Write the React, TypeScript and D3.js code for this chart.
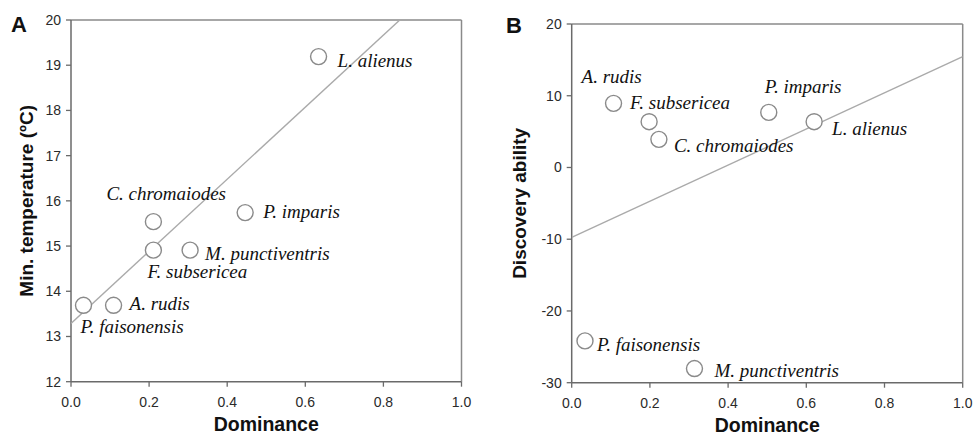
import React from 'react';
import * as d3 from 'd3';

// panel A: dominance vs min. temperature
const speciesA = ['L. alienus', 'C. chromaiodes', 'P. imparis', 'F. subsericea', 'M. punctiventris', 'P. faisonensis', 'A. rudis'];
const dominanceA = [0.634, 0.211, 0.446, 0.211, 0.305, 0.032, 0.109];
const minTemp = [19.19, 15.54, 15.74, 14.91, 14.91, 13.69, 13.69];
const fitA = [13.29, 7.97]; // intercept, slope

// panel B: dominance vs discovery ability
const speciesB = ['A. rudis', 'F. subsericea', 'C. chromaiodes', 'P. imparis', 'L. alienus', 'P. faisonensis', 'M. punctiventris'];
const dominanceB = [0.107, 0.198, 0.223, 0.504, 0.62, 0.034, 0.314];
const discovery = [8.94, 6.38, 3.92, 7.68, 6.38, -24.17, -28.03];
const fitB = [-9.75, 25.2];

const xTicks = [0, 0.2, 0.4, 0.6, 0.8, 1.0];
const yTicksA = [12, 13, 14, 15, 16, 17, 18, 19, 20];
const yTicksB = [-30, -20, -10, 0, 10, 20];

// label offsets from circle centre (px)
const labelOffsetA: Record<string, [number, number]> = {
  'L. alienus': [19, 10],
  'C. chromaiodes': [-47, -22],
  'P. imparis': [18, 5],
  'F. subsericea': [-6, 28],
  'M. punctiventris': [15, 10],
  'P. faisonensis': [-3, 28],
  'A. rudis': [16, 5],
};
const labelOffsetB: Record<string, [number, number]> = {
  'A. rudis': [-32, -20],
  'F. subsericea': [-19, -13],
  'C. chromaiodes': [15, 13],
  'P. imparis': [-4, -19],
  'L. alienus': [18, 13],
  'P. faisonensis': [12, 10],
  'M. punctiventris': [20, 8],
};

interface PanelProps {
  id: string;
  letter: string;
  left: number;
  right: number;
  top: number;
  bottom: number;
  yDomain: [number, number];
  yTicks: number[];
  yTitle: string;
  yTitleX: number;
  names: string[];
  xs: number[];
  ys: number[];
  fit: number[];
  offsets: Record<string, [number, number]>;
  letterX: number;
  letterY: number;
}

const sans = 'Arial, "Liberation Sans", sans-serif';
const serif = '"Times New Roman", "Liberation Serif", serif';

const Panel: React.FC<PanelProps> = (p) => {
  const x = d3.scaleLinear().domain([0, 1]).range([p.left, p.right]);
  const y = d3.scaleLinear().domain(p.yDomain).range([p.bottom, p.top]);
  const line = d3.line<number>().x(d => x(d)).y(d => y(p.fit[0] + p.fit[1] * d));
  const midY = (p.top + p.bottom) / 2;

  return (
    <g>
      <defs>
        <clipPath id={`clip-${p.id}`}>
          <rect x={p.left} y={p.top} width={p.right - p.left} height={p.bottom - p.top} />
        </clipPath>
      </defs>
      <text x={p.letterX} y={p.letterY} fontFamily={sans} fontWeight="bold" fontSize={22} fill="#111">{p.letter}</text>

      {/* frame */}
      <line x1={p.left} x2={p.right} y1={p.top} y2={p.top} stroke="#8a8a8a" strokeWidth={1.5} />
      <line x1={p.right} x2={p.right} y1={p.top} y2={p.bottom} stroke="#8a8a8a" strokeWidth={1.5} />
      <line x1={p.left} x2={p.left} y1={p.top} y2={p.bottom} stroke="#6a6a6a" strokeWidth={1.5} />
      <line x1={p.left} x2={p.right} y1={p.bottom} y2={p.bottom} stroke="#6a6a6a" strokeWidth={1.5} />

      {/* y ticks */}
      {p.yTicks.map(t => (
        <g key={`y${t}`}>
          <line x1={p.left - 5} x2={p.left} y1={y(t)} y2={y(t)} stroke="#6a6a6a" strokeWidth={1.3} />
          <text x={p.left - 10} y={y(t)} dy="0.35em" textAnchor="end" fontFamily={sans} fontSize={14} fill="#2a2a2a">{t}</text>
        </g>
      ))}
      {/* x ticks */}
      {xTicks.map(t => (
        <g key={`x${t}`}>
          <line x1={x(t)} x2={x(t)} y1={p.bottom} y2={p.bottom + 5} stroke="#6a6a6a" strokeWidth={1.3} />
          <text x={x(t)} y={p.bottom + 25} textAnchor="middle" fontFamily={sans} fontSize={14} fill="#2a2a2a">{d3.format('.1f')(t)}</text>
        </g>
      ))}

      <text x={(p.left + p.right) / 2} y={p.bottom + 49} textAnchor="middle" fontFamily={sans} fontWeight="bold" fontSize={19.5} fill="#111">Dominance</text>
      <text transform={`translate(${p.yTitleX}, ${midY}) rotate(-90)`} textAnchor="middle" fontFamily={sans} fontWeight="bold" fontSize={19} fill="#111">{p.yTitle}</text>

      {/* regression line */}
      <path d={line([0, 1]) || ''} fill="none" stroke="#aaa" strokeWidth={1.4} clipPath={`url(#clip-${p.id})`} />

      {/* points */}
      {p.names.map((n, i) => {
        const cx = x(p.xs[i]);
        const cy = y(p.ys[i]);
        const [dx, dy] = p.offsets[n];
        return (
          <g key={n}>
            <circle cx={cx} cy={cy} r={8} fill="#fff" stroke="#8a8a8a" strokeWidth={1.4} />
            <text x={cx + dx} y={cy + dy} fontFamily={serif} fontStyle="italic" fontSize={19} fill="#111">{n}</text>
          </g>
        );
      })}
    </g>
  );
};

export default function App() {
  return (
    <svg width={973} height={436} style={{ position: 'absolute', left: 0, top: 0, background: '#fff' }}>
      <Panel
        id="a" letter="A" left={71} right={461.5} top={20} bottom={381.7}
        yDomain={[12, 20]} yTicks={yTicksA} yTitle="Min. temperature (ºC)" yTitleX={33}
        names={speciesA} xs={dominanceA} ys={minTemp} fit={fitA} offsets={labelOffsetA}
        letterX={11} letterY={32}
      />
      <Panel
        id="b" letter="B" left={571.7} right={962.7} top={24} bottom={382.7}
        yDomain={[-30, 20]} yTicks={yTicksB} yTitle="Discovery ability" yTitleX={526}
        names={speciesB} xs={dominanceB} ys={discovery} fit={fitB} offsets={labelOffsetB}
        letterX={506} letterY={33}
      />
    </svg>
  );
}
